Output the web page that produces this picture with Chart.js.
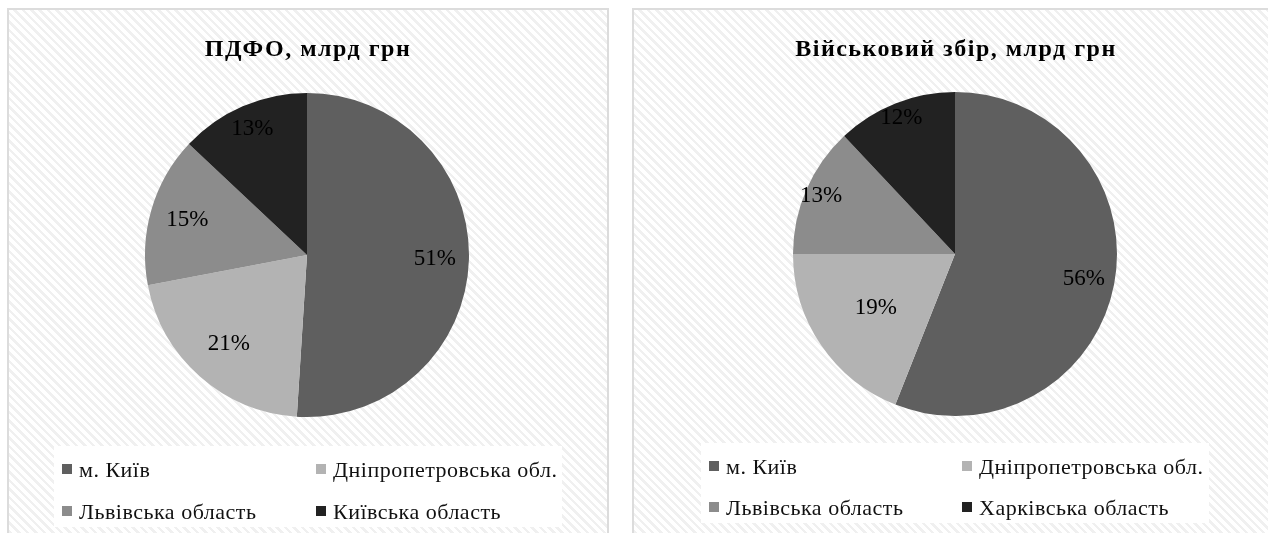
<!DOCTYPE html>
<html>
<head>
<meta charset="utf-8">
<script src="https://cdn.jsdelivr.net/npm/chart.js@4"></script>
<style>
  body { margin: 0; width: 1268px; height: 533px; background: #fff; overflow: hidden; position: relative; font-family: "Liberation Serif", serif; }
  .panel {
    position: absolute; top: 8px; box-sizing: border-box; height: 540px;
    border: 2px solid #dcdcdc;
    background: repeating-linear-gradient(45deg, #ffffff 0 3.5px, #f0f0f0 3.5px 6px);
  }
  .panel canvas { position: absolute; left: 0; top: 0; }
</style>
</head>
<body>
<div class="panel" style="left:7px; width:602px;"><canvas id="pdfo" width="598" height="524"></canvas></div>
<div class="panel" style="left:632px; width:640px;"><canvas id="vz" width="636" height="524"></canvas></div>
<script>
// ПДФО
const pdfoLabels = ['м. Київ', 'Дніпропетровська обл.', 'Львівська область', 'Київська область'];
const pdfoValues = [51, 21, 15, 13];
// Військовий збір
const vzLabels = ['м. Київ', 'Дніпропетровська обл.', 'Львівська область', 'Харківська область'];
const vzValues = [56, 19, 13, 12];

const sliceColors = ['#5f5f5f', '#b3b3b3', '#8c8c8c', '#222222'];
const serif = "'Liberation Serif'";

// title drawn by hand so letter spacing can be widened like the original
const wideTitle = {
    id: 'wideTitle',
    afterDraw(chart, args, opts) {
        const ctx = chart.ctx;
        const arc = chart.getDatasetMeta(0).data[0];
        ctx.save();
        ctx.font = 'bold 24px ' + serif;
        ctx.letterSpacing = '1.5px';
        ctx.fillStyle = '#000';
        ctx.textAlign = 'center';
        ctx.textBaseline = 'middle';
        ctx.fillText(opts.text, arc.x + 1, opts.y);
        ctx.restore();
    }
};

// percent labels inside slices
const sliceLabels = {
    id: 'sliceLabels',
    afterDatasetsDraw(chart, args, opts) {
        const ctx = chart.ctx;
        const meta = chart.getDatasetMeta(0);
        const values = chart.data.datasets[0].data;
        const total = values.reduce((a, b) => a + b, 0);
        ctx.save();
        ctx.font = '23px ' + serif;
        ctx.fillStyle = '#000';
        ctx.textAlign = 'center';
        ctx.textBaseline = 'middle';
        meta.data.forEach((arc, i) => {
            const mid = (arc.startAngle + arc.endAngle) / 2;
            const d = arc.outerRadius * opts.dist[i];
            const pct = Math.round(values[i] / total * 100) + '%';
            ctx.fillText(pct, arc.x + Math.cos(mid) * d, arc.y + Math.sin(mid) * d);
        });
        ctx.restore();
    }
};

// 2x2 legend on white box
const gridLegend = {
    id: 'gridLegend',
    afterDraw(chart, args, opts) {
        const ctx = chart.ctx;
        const labels = chart.data.labels;
        const colors = chart.data.datasets[0].backgroundColor;
        ctx.save();
        ctx.fillStyle = '#ffffff';
        ctx.fillRect(opts.box[0], opts.box[1], opts.box[2], opts.box[3]);
        ctx.font = '22px ' + serif;
        ctx.letterSpacing = '0.5px';
        ctx.textBaseline = 'middle';
        labels.forEach((lab, i) => {
            const x = opts.cols[i % 2];
            const y = opts.rows[Math.floor(i / 2)];
            ctx.fillStyle = colors[i];
            ctx.fillRect(x, y - 7, 10, 10);
            ctx.fillStyle = '#111';
            ctx.fillText(lab, x + 17, y);
        });
        ctx.restore();
    }
};

const makePie = (id, title, labels, values, pad, dist, legend) => {
    new Chart(document.getElementById(id), {
        type: 'pie',
        data: {
            labels,
            datasets: [{ data: values, backgroundColor: sliceColors, borderWidth: 0 }]
        },
        options: {
            responsive: false,
            animation: false,
            layout: { padding: pad },
            plugins: {
                legend: { display: false },
                tooltip: { enabled: false },
                title: { display: false },
                wideTitle: { text: title, y: 40 },
                sliceLabels: { dist },
                gridLegend: legend
            }
        },
        plugins: [wideTitle, sliceLabels, gridLegend]
    });
};

const draw = () => {
    makePie('pdfo', 'ПДФО, млрд грн', pdfoLabels, pdfoValues,
        { left: 136, right: 138, top: 83, bottom: 117 },
        [0.79, 0.73, 0.77, 0.85],
        { box: [45, 436, 508, 81], cols: [53, 307], rows: [461, 503] });

    makePie('vz', 'Військовий збір, млрд грн', vzLabels, vzValues,
        { left: 159, right: 153, top: 82, bottom: 118 },
        [0.81, 0.59, 0.9, 0.9],
        { box: [67, 433, 508, 80], cols: [75, 328], rows: [458, 499] });
};

Promise.all([
    document.fonts.load("bold 24px 'Liberation Serif'"),
    document.fonts.load("22px 'Liberation Serif'")
]).then(draw, draw);
</script>
</body>
</html>
